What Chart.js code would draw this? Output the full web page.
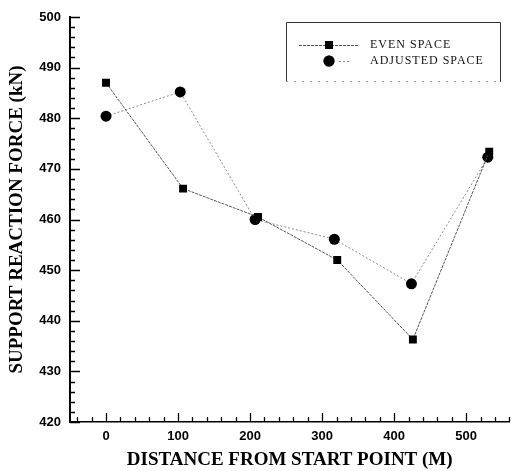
<!DOCTYPE html>
<html>
<head>
<meta charset="utf-8">
<script src="https://cdn.jsdelivr.net/npm/chart.js@4.4.1/dist/chart.umd.min.js"></script>
<style>
  html, body { margin: 0; padding: 0; background: #fff; }
  #wrap { width: 515px; height: 471px; }
</style>
</head>
<body>
<div id="wrap"><canvas id="chart"></canvas></div>
<script>
// values
const evenX = [0, 107, 211, 321, 426, 532];
const evenY = [487.0, 466.1, 460.5, 452.0, 436.3, 473.4];
const adjX = [0, 103, 207, 317, 424, 530];
const adjY = [480.4, 485.2, 460.0, 456.1, 447.3, 472.3];
const xTicks = [0, 100, 200, 300, 400, 500];
const yTicks = [420, 430, 440, 450, 460, 470, 480, 490, 500];

const labelFont = { family: "'Liberation Sans', Arial, sans-serif", size: 13, weight: "bold" };
const titleFont = { family: "'Liberation Serif', 'Times New Roman', serif", size: 19, weight: "bold" };

const toPoints = (xs, ys) => xs.map((x, i) => ({ x, y: ys[i] }));

// inward major/minor tick marks on the two axes
const tickMarks = {
  id: "tickMarks",
  afterDraw(chart) {
    const { ctx, chartArea, scales } = chart;
    ctx.save();
    ctx.strokeStyle = "#000";
    ctx.lineWidth = 1.3;
    ctx.beginPath();
    for (let v = -40; v <= 560; v += 20) {
      const px = Math.round(scales.x.getPixelForValue(v)) + 0.5;
      const len = v % 100 === 0 ? 9 : 5;
      ctx.moveTo(px, chartArea.bottom);
      ctx.lineTo(px, chartArea.bottom - len);
    }
    for (let v = 420; v <= 500; v += 2) {
      const py = Math.round(scales.y.getPixelForValue(v)) + 0.5;
      const len = v % 10 === 0 ? 10 : 5;
      ctx.moveTo(chartArea.left, py);
      ctx.lineTo(chartArea.left + len, py);
    }
    ctx.stroke();
    ctx.restore();
  }
};

// boxed legend in the top right corner
const boxLegend = {
  id: "boxLegend",
  afterDraw(chart) {
    const { ctx } = chart;
    const left = 286, top = 22, right = 500, bottom = 82;
    ctx.save();
    ctx.strokeStyle = "#333";
    ctx.lineWidth = 1;
    ctx.beginPath();
    ctx.moveTo(left + 0.5, bottom);
    ctx.lineTo(left + 0.5, top + 0.5);
    ctx.lineTo(right + 0.5, top + 0.5);
    ctx.lineTo(right + 0.5, bottom);
    ctx.stroke();
    ctx.setLineDash([2, 6]);
    ctx.strokeStyle = "#999";
    ctx.beginPath();
    ctx.moveTo(left, bottom - 0.5);
    ctx.lineTo(right, bottom - 0.5);
    ctx.stroke();
    ctx.setLineDash([]);

    const rows = [45, 61];
    chart.data.datasets.forEach((ds, i) => {
      const y = rows[i];
      const cx = left + 43;
      ctx.strokeStyle = ds.borderColor;
      ctx.lineWidth = 1;
      ctx.setLineDash(ds.borderDash || []);
      ctx.beginPath();
      if (i === 0) {
        ctx.moveTo(left + 13, y + 0.5);
        ctx.lineTo(left + 73, y + 0.5);
      } else {
        ctx.moveTo(cx + 10, y + 0.5);
        ctx.lineTo(cx + 20, y + 0.5);
      }
      ctx.stroke();
      ctx.setLineDash([]);
      Chart.helpers.drawPoint(ctx, {
        pointStyle: ds.pointStyle,
        radius: ds.pointRadius,
        borderWidth: 0
      }, cx, y);
      ctx.fillStyle = "#000";
      ctx.fill();
      ctx.fillStyle = "#111";
      ctx.font = "12px 'Liberation Serif', 'Times New Roman', serif";
      ctx.letterSpacing = "1px";
      ctx.textBaseline = "middle";
      ctx.fillText(ds.label, left + 84, y);
    });
    ctx.restore();
  }
};

new Chart(document.getElementById("chart"), {
  type: "line",
  data: {
    datasets: [
      {
        label: "EVEN SPACE",
        data: toPoints(evenX, evenY),
        borderColor: "#555",
        borderWidth: 1,
        borderDash: [3, 1],
        pointStyle: "rect",
        pointRadius: 5.6,
        pointBackgroundColor: "#000",
        pointBorderColor: "#000",
        pointBorderWidth: 0
      },
      {
        label: "ADJUSTED SPACE",
        data: toPoints(adjX, adjY),
        borderColor: "#888",
        borderWidth: 1,
        borderDash: [2, 2],
        pointStyle: "circle",
        pointRadius: 5.5,
        pointBackgroundColor: "#000",
        pointBorderColor: "#000",
        pointBorderWidth: 0
      }
    ]
  },
  options: {
    responsive: true,
    maintainAspectRatio: false,
    animation: false,
    layout: { padding: { top: 17, right: 0, left: 0, bottom: 0 } },
    plugins: {
      legend: { display: false },
      tooltip: { enabled: false }
    },
    scales: {
      x: {
        type: "linear",
        min: -50,
        max: 560,
        afterBuildTicks: scale => { scale.ticks = xTicks.map(v => ({ value: v })); },
        afterFit: scale => { scale.height = 49; },
        grid: { display: false, drawTicks: false },
        border: { display: true, color: "#000", width: 1.5 },
        ticks: { color: "#000", font: labelFont, padding: 7, maxRotation: 0 },
        title: {
          display: true,
          text: "DISTANCE FROM START POINT (M)",
          color: "#000",
          font: titleFont,
          padding: { top: 2, bottom: 0 }
        }
      },
      y: {
        type: "linear",
        min: 420,
        max: 500,
        afterBuildTicks: scale => { scale.ticks = yTicks.map(v => ({ value: v })); },
        afterFit: scale => { scale.width = 70; },
        grid: { display: false, drawTicks: false },
        border: { display: true, color: "#000", width: 2 },
        ticks: { color: "#000", font: labelFont, padding: 9 },
        title: {
          display: true,
          text: "SUPPORT REACTION FORCE (kN)",
          color: "#000",
          font: titleFont,
          padding: { top: 6, bottom: 0 }
        }
      }
    }
  },
  plugins: [tickMarks, boxLegend]
});
</script>
</body>
</html>
